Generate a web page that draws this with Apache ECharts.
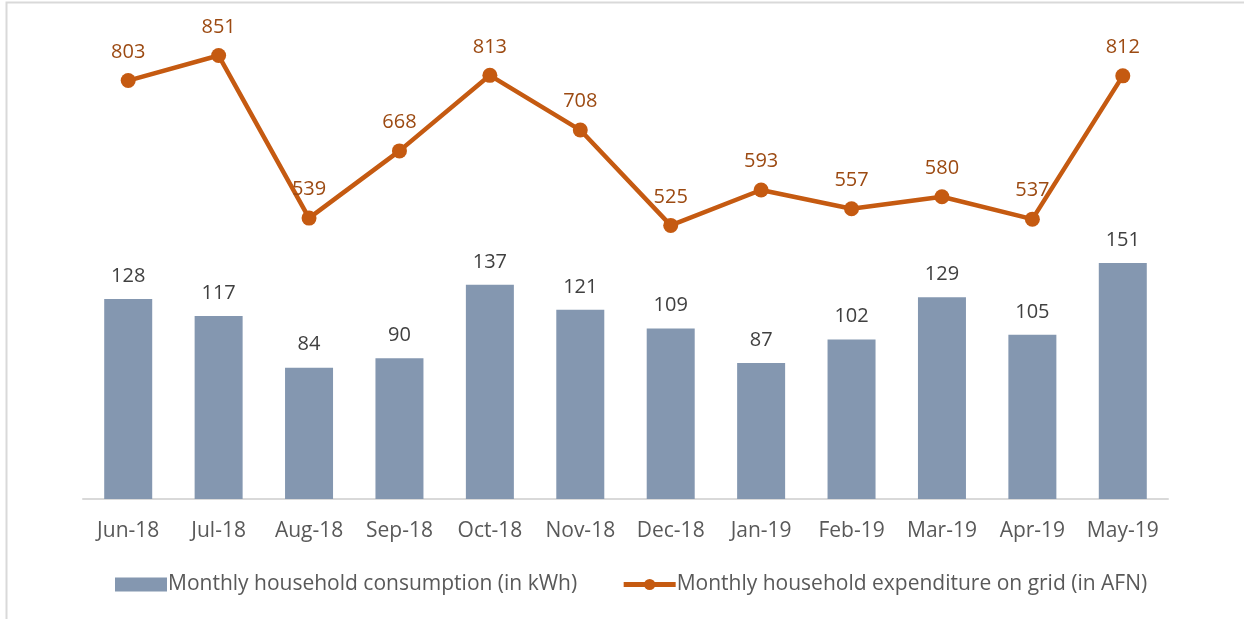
<!DOCTYPE html>
<html>
<head>
<meta charset="utf-8">
<script src="https://cdn.jsdelivr.net/npm/echarts@6/dist/echarts.min.js"></script>
<style>html,body{margin:0;padding:0;background:#fff;}#c{width:1244px;height:619px;}</style>
</head>
<body>
<div id="c"></div>
<script>
var categories = ['Jun-18','Jul-18','Aug-18','Sep-18','Oct-18','Nov-18','Dec-18','Jan-19','Feb-19','Mar-19','Apr-19','May-19'];
var consumption = [128,117,84,90,137,121,109,87,102,129,105,151];
var expenditure = [803,851,539,668,813,708,525,593,557,580,537,812];
var seriesNames = ['Monthly household consumption (in kWh)','Monthly household expenditure on grid (in AFN)'];

var FONT = 'Open Sans';
var chart = echarts.init(document.getElementById('c'));
chart.setOption({
  animation: false,
  textStyle: {fontFamily: FONT},
  graphic: [{
    type: 'rect', shape: {x: 6.5, y: 2.5, width: 1300, height: 700},
    style: {fill: 'none', stroke: '#d9d9d9', lineWidth: 2}, silent: true
  }],
  grid: {left: 83, right: 76, top: 30, bottom: 120},
  legend: {
    data: [
      {name: seriesNames[0], icon: 'rect'},
      {name: seriesNames[1], lineStyle: {width: 5}}
    ],
    left: 110, top: 569,
    itemWidth: 52, itemHeight: 14, itemGap: 44,
    textStyle: {fontFamily: FONT, fontSize: 21, color: '#595959', padding: [0,0,0,-4]}
  },
  xAxis: {
    type: 'category', data: categories,
    axisLine: {lineStyle: {color: '#d9d9d9', width: 2}},
    axisTick: {show: false},
    axisLabel: {fontFamily: FONT, fontSize: 21, color: '#595959', margin: 22, interval: 0}
  },
  yAxis: [
    {type: 'value', min: 0, max: 300, show: false, splitLine: {show: false}},
    {type: 'value', min: 0, max: 900, show: false, splitLine: {show: false}}
  ],
  series: [
    {
      name: seriesNames[0], type: 'bar', yAxisIndex: 0, data: consumption,
      barWidth: 48,
      itemStyle: {color: '#8497b0'},
      label: {show: true, position: 'top', distance: 13, fontFamily: FONT, fontSize: 20, color: '#404040'}
    },
    {
      name: seriesNames[1], type: 'line', yAxisIndex: 1, data: expenditure,
      symbol: 'circle', symbolSize: 15,
      lineStyle: {color: '#c55a11', width: 4.5},
      itemStyle: {color: '#c55a11'},
      label: {show: true, position: 'top', distance: 11, fontFamily: FONT, fontSize: 20, color: '#9c4a12'}
    }
  ]
});
</script>
</body>
</html>
